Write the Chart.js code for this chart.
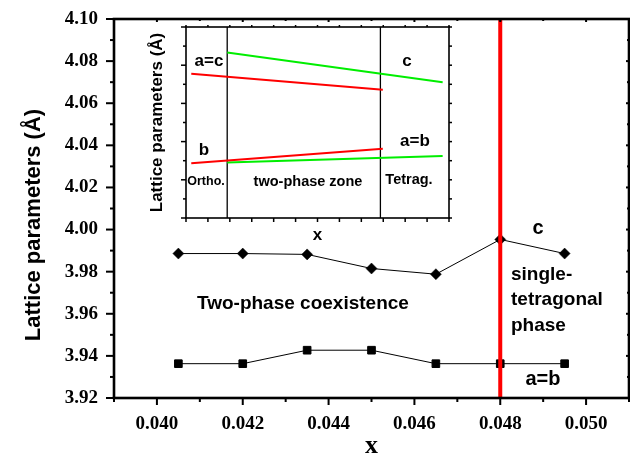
<!DOCTYPE html>
<html>
<head>
<meta charset="utf-8">
<script src="https://cdn.jsdelivr.net/npm/chart.js@4/dist/chart.umd.min.js"></script>
<style>
  html, body { margin: 0; padding: 0; background: #fff; }
  #wrap { position: relative; width: 630px; height: 459px; }
  #main { position: absolute; left: 0; top: 0; }
  #inset { position: absolute; left: 130px; top: 0; }
</style>
</head>
<body>
<div id="wrap">
  <canvas id="main" width="630" height="459"></canvas>
  <canvas id="inset" width="340" height="250"></canvas>
</div>
<script>
// main plot data
const xValues = [0.0405, 0.042, 0.0435, 0.045, 0.0465, 0.048, 0.0495];
const cValues = [3.9886, 3.9886, 3.9882, 3.9815, 3.9788, 3.9953, 3.9886];
const abValues = [3.9363, 3.9363, 3.9427, 3.9427, 3.9363, 3.9363, 3.9363];
const boundaryX = [0.048, 0.048];
const boundaryY = [3.92, 4.10];

const xTicks = [0.040, 0.042, 0.044, 0.046, 0.048, 0.050];
const xMinor = [0.039, 0.041, 0.043, 0.045, 0.047, 0.049, 0.051];
const yTicks = [3.92, 3.94, 3.96, 3.98, 4.00, 4.02, 4.04, 4.06, 4.08, 4.10];
const yMinor = [3.93, 3.95, 3.97, 3.99, 4.01, 4.03, 4.05, 4.07, 4.09];

// inset schematic (arbitrary units, no tick labels)
const orthoX = [0.24, 8.98];
const orthoAC = [7.55, 6.71];
const orthoB = [2.87, 3.62];
const tetraX = [1.88, 11.71];
const tetraC = [8.66, 7.11];
const tetraAB = [2.90, 3.25];
const zoneLeftX = [1.88, 1.88];
const zoneRightX = [8.87, 8.87];
const zoneY = [0, 10];
const insetXTicks = [0, 1, 2, 3, 4, 5, 6, 7, 8, 9, 10, 11, 12];
const insetYTicks = [0, 1, 2, 3, 4, 5, 6, 7, 8, 9, 10];

const SANS = '"Liberation Sans", Arial, sans-serif';
const SERIF = '"Liberation Serif", "Times New Roman", serif';

function pts(xs, ys) {
    return xs.map((x, i) => ({ x: x, y: ys[i] }));
}

function text(ctx, str, x, y, font, align) {
    ctx.font = font;
    ctx.textAlign = align || 'center';
    ctx.textBaseline = 'middle';
    ctx.fillStyle = '#000';
    ctx.fillText(str, x, y);
}

// axis-aligned line drawn as a filled rect
function hline(ctx, x1, x2, y, w) { ctx.fillRect(Math.min(x1, x2), y - w / 2, Math.abs(x2 - x1), w); }
function vline(ctx, x, y1, y2, w) { ctx.fillRect(x - w / 2, Math.min(y1, y2), w, Math.abs(y2 - y1)); }

function noPad(s) {
    s.paddingTop = 0; s.paddingBottom = 0; s.paddingLeft = 0; s.paddingRight = 0;
}

const mainFrame = {
    id: 'mainFrame',
    afterDraw(chart) {
        const ctx = chart.ctx;
        const a = chart.chartArea;
        const xs = chart.scales.x, ys = chart.scales.y;
        ctx.save();
        ctx.fillStyle = '#000';
        xTicks.forEach(v => {
            const p = xs.getPixelForValue(v);
            vline(ctx, p, a.bottom, a.bottom + 7, 2);
            vline(ctx, p, a.top, a.top + 3, 2);
        });
        xMinor.forEach(v => {
            const p = xs.getPixelForValue(v);
            vline(ctx, p, a.bottom, a.bottom + 4, 2);
            vline(ctx, p, a.top, a.top + 2, 2);
        });
        yTicks.forEach(v => {
            const p = ys.getPixelForValue(v);
            hline(ctx, a.left - 8, a.left, p, 2);
            hline(ctx, a.right - 3, a.right, p, 2);
        });
        yMinor.forEach(v => {
            const p = ys.getPixelForValue(v);
            hline(ctx, a.left - 4, a.left, p, 2);
            hline(ctx, a.right - 2, a.right, p, 2);
        });
        // frame
        const w = 2.6;
        hline(ctx, a.left - w / 2, a.right + w / 2, a.top, w);
        hline(ctx, a.left - w / 2, a.right + w / 2, a.bottom, w);
        vline(ctx, a.left, a.top, a.bottom, w);
        vline(ctx, a.right, a.top, a.bottom, w);

        // axis title and annotations
        ctx.save();
        ctx.translate(34, 225);
        ctx.rotate(-Math.PI / 2);
        text(ctx, 'Lattice parameters (Å)', 0, 0, 'bold 22px ' + SANS);
        ctx.restore();
        text(ctx, 'Two-phase coexistence', 197, 304, 'bold 19px ' + SANS, 'left');
        text(ctx, 'c', 538, 228, 'bold 20px ' + SANS);
        text(ctx, 'single-', 511, 275, 'bold 19px ' + SANS, 'left');
        text(ctx, 'tetragonal', 511, 300, 'bold 19px ' + SANS, 'left');
        text(ctx, 'phase', 511, 326, 'bold 19px ' + SANS, 'left');
        text(ctx, 'a=b', 543, 379, 'bold 20px ' + SANS);
        ctx.restore();
    }
};

new Chart(document.getElementById('main'), {
    type: 'scatter',
    data: {
        datasets: [
            {
                label: 'boundary', data: pts(boundaryX, boundaryY), showLine: true,
                borderColor: '#ff0000', borderWidth: 4, pointRadius: 0
            },
            {
                label: 'c', data: pts(xValues, cValues), showLine: true,
                borderColor: '#000', borderWidth: 1, backgroundColor: '#000',
                pointStyle: 'rectRot', pointRadius: 5.5, pointBorderWidth: 0.5
            },
            {
                label: 'a=b', data: pts(xValues, abValues), showLine: true,
                borderColor: '#000', borderWidth: 1, backgroundColor: '#000',
                pointStyle: 'rect', pointRadius: 5.4, pointBorderWidth: 1
            }
        ]
    },
    options: {
        responsive: false,
        animation: false,
        devicePixelRatio: 1,
        layout: { autoPadding: false, padding: { top: 19, right: 1, left: 0, bottom: 0 } },
        plugins: { legend: { display: false }, tooltip: { enabled: false } },
        scales: {
            x: {
                type: 'linear', min: 0.039, max: 0.051,
                grid: { display: false, drawTicks: false }, border: { display: false },
                afterBuildTicks: s => { s.ticks = xTicks.map(v => ({ value: v })); },
                afterFit: s => { s.height = 61; noPad(s); },
                ticks: {
                    padding: 15, color: '#000',
                    font: { family: SERIF, size: 19, weight: 'bold' },
                    callback: v => v.toFixed(3)
                },
                title: {
                    display: true, text: 'x', color: '#000',
                    font: { family: SERIF, size: 26, weight: 'bold', lineHeight: 1 },
                    padding: 0
                }
            },
            y: {
                type: 'linear', min: 3.92, max: 4.10,
                grid: { display: false, drawTicks: false }, border: { display: false },
                afterBuildTicks: s => { s.ticks = yTicks.map(v => ({ value: v })); },
                afterFit: s => { s.width = 114; noPad(s); },
                ticks: {
                    padding: 16, color: '#000',
                    font: { family: SERIF, size: 19, weight: 'bold' },
                    callback: v => v.toFixed(2)
                }
            }
        }
    },
    plugins: [mainFrame]
});

const insetFrame = {
    id: 'insetFrame',
    afterDraw(chart) {
        const ctx = chart.ctx;
        const a = chart.chartArea;
        const xs = chart.scales.x, ys = chart.scales.y;
        ctx.save();
        ctx.fillStyle = '#000';
        insetXTicks.forEach(v => {
            const p = xs.getPixelForValue(v);
            vline(ctx, p, a.bottom, a.bottom + 4, 1.5);
            vline(ctx, p, a.top, a.top - 2, 1.5);
        });
        insetYTicks.forEach(v => {
            const p = ys.getPixelForValue(v);
            const len = v % 2 === 0 ? 5 : 3;
            hline(ctx, a.left - len, a.left, p, 1.5);
            hline(ctx, a.right, a.right + 3, p, 1.5);
        });
        const w = 1.6;
        hline(ctx, a.left - w / 2, a.right + w / 2, a.top, w);
        hline(ctx, a.left - w / 2, a.right + w / 2, a.bottom, w);
        vline(ctx, a.left, a.top, a.bottom, w);
        vline(ctx, a.right, a.top, a.bottom, w);

        text(ctx, 'a=c', 79, 61, 'bold 17px ' + SANS);
        text(ctx, 'b', 74, 150, 'bold 17px ' + SANS);
        text(ctx, 'c', 277, 61, 'bold 17px ' + SANS);
        text(ctx, 'a=b', 285, 141, 'bold 17px ' + SANS);
        text(ctx, 'Ortho.', 76, 182, 'bold 12.5px ' + SANS);
        text(ctx, 'two-phase zone', 178, 182, 'bold 14.5px ' + SANS);
        text(ctx, 'Tetrag.', 279, 180, 'bold 14.5px ' + SANS);
        ctx.restore();
    }
};

function seg(xs, ys, color, width) {
    return {
        data: pts(xs, ys), showLine: true, borderColor: color,
        borderWidth: width, pointRadius: 0
    };
}

new Chart(document.getElementById('inset'), {
    type: 'scatter',
    data: {
        datasets: [
            seg(orthoX, orthoAC, '#ff0000', 2),
            seg(orthoX, orthoB, '#ff0000', 2),
            seg(tetraX, tetraC, '#00ee00', 2),
            seg(tetraX, tetraAB, '#00ee00', 2),
            seg(zoneLeftX, zoneY, '#000', 1.3),
            seg(zoneRightX, zoneY, '#000', 1.3)
        ]
    },
    options: {
        responsive: false,
        animation: false,
        devicePixelRatio: 1,
        layout: { autoPadding: false, padding: { top: 27, right: 21, left: 0, bottom: 0 } },
        plugins: { legend: { display: false }, tooltip: { enabled: false } },
        scales: {
            x: {
                type: 'linear', min: 0, max: 12,
                grid: { display: false, drawTicks: false }, border: { display: false },
                ticks: { display: false },
                afterFit: s => { s.height = 32; noPad(s); },
                title: {
                    display: true, text: 'x', color: '#000',
                    font: { family: SANS, size: 17, weight: 'bold', lineHeight: 1.2 },
                    padding: { top: 0, bottom: 4 }
                }
            },
            y: {
                type: 'linear', min: 0, max: 10,
                grid: { display: false, drawTicks: false }, border: { display: false },
                ticks: { display: false },
                afterFit: s => { s.width = 56; noPad(s); },
                title: {
                    display: true, text: 'Lattice parameters (Å)', color: '#000',
                    font: { family: SANS, size: 17, weight: 'bold', lineHeight: 1.2 },
                    padding: { top: 17, bottom: 0 }
                }
            }
        }
    },
    plugins: [insetFrame]
});
</script>
</body>
</html>
